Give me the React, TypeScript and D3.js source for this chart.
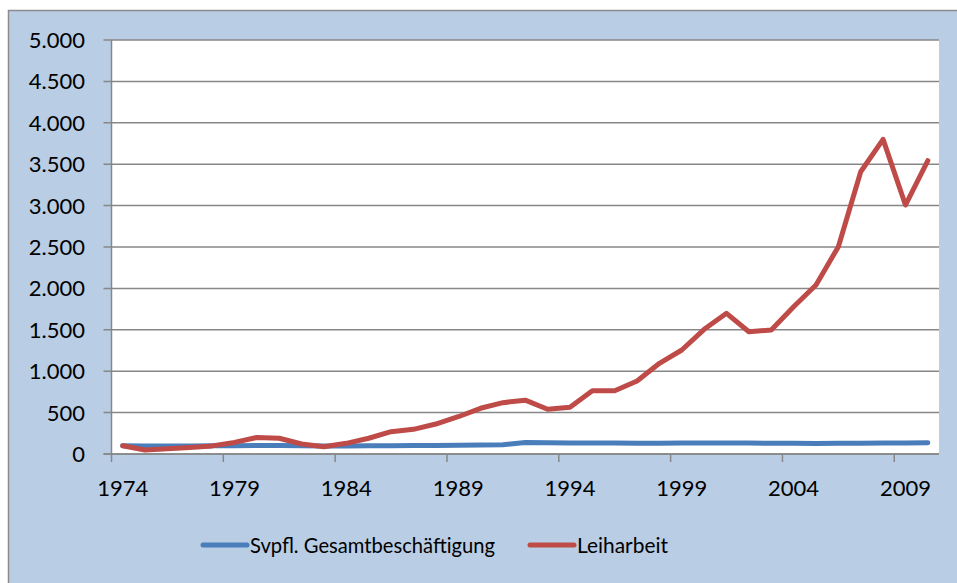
import React, { useEffect, useRef } from "react";
import * as d3 from "d3";

const years = d3.range(1974, 2011);

const gesamt = [
  100, 97, 97, 98, 99, 101, 103, 102, 100, 98, 98, 99, 101, 102, 103, 105,
  108, 111, 138, 136, 134, 134, 133, 131, 131, 132, 134, 134, 133, 130, 129,
  128, 129, 131, 134, 134, 135,
];

const leiharbeit = [
  100, 48, 62, 78, 98, 140, 200, 190, 121, 88, 129, 190, 270, 298, 362, 450,
  552, 620, 650, 540, 564, 764, 764, 882, 1095, 1256, 1506, 1699, 1477, 1498,
  1779, 2041, 2504, 3409, 3800, 3007, 3542,
];

const yTicks = [0, 500, 1000, 1500, 2000, 2500, 3000, 3500, 4000, 4500, 5000];

const seriesNames = ["Svpfl. Gesamtbeschäftigung", "Leiharbeit"];
const seriesColors = ["#4a7ebb", "#be4b48"];

const App = () => {
  const width = 957;
  const height = 583;
  const ref = useRef(null);

  useEffect(() => {
    const svg = d3.select(ref.current);
    svg.selectAll("*").remove();

    const font = "Lato, 'Open Sans', sans-serif";
    const left = 111.5;
    const right = 939;
    const top = 40;
    const bottom = 454;

    // chart background
    svg
      .append("rect")
      .attr("x", 8.5)
      .attr("y", 10.5)
      .attr("width", width)
      .attr("height", height)
      .attr("fill", "#b9cde5")
      .attr("stroke", "#8c8c8c")
      .attr("stroke-width", 1.5);

    svg
      .append("rect")
      .attr("x", left)
      .attr("y", top)
      .attr("width", right - left)
      .attr("height", bottom - top)
      .attr("fill", "#ffffff");

    const xScale = d3.scaleBand().domain(years).range([left, right]);
    const yScale = d3.scaleLinear().domain([0, 5000]).range([bottom, top]);
    const cx = (y) => xScale(y) + xScale.bandwidth() / 2;

    // grid + y ticks
    svg
      .append("g")
      .selectAll("line")
      .data(yTicks)
      .enter()
      .append("line")
      .attr("x1", left - 8)
      .attr("x2", right)
      .attr("y1", (d) => yScale(d))
      .attr("y2", (d) => yScale(d))
      .attr("stroke", "#878787")
      .attr("stroke-width", 1.5);

    svg
      .append("g")
      .selectAll("text")
      .data(yTicks)
      .enter()
      .append("text")
      .attr("x", 85)
      .attr("y", (d) => yScale(d))
      .attr("dy", "0.36em")
      .attr("text-anchor", "end")
      .attr("font-family", font)
      .attr("font-size", 22)
      .attr("fill", "#000")
      .text((d) => d3.format(",")(d).replace(/,/g, "."));

    // axes lines
    svg
      .append("line")
      .attr("x1", left)
      .attr("x2", left)
      .attr("y1", top)
      .attr("y2", bottom)
      .attr("stroke", "#878787")
      .attr("stroke-width", 1.5);

    const labelYears = years.filter((d, i) => i % 5 === 0);

    svg
      .append("g")
      .selectAll("line")
      .data(labelYears)
      .enter()
      .append("line")
      .attr("x1", (d) => xScale(d))
      .attr("x2", (d) => xScale(d))
      .attr("y1", bottom)
      .attr("y2", bottom + 8)
      .attr("stroke", "#878787")
      .attr("stroke-width", 1.5);

    svg
      .append("g")
      .selectAll("text")
      .data(labelYears)
      .enter()
      .append("text")
      .attr("x", (d) => cx(d))
      .attr("y", 488)
      .attr("dy", "0.36em")
      .attr("text-anchor", "middle")
      .attr("font-family", font)
      .attr("font-size", 22)
      .attr("fill", "#000")
      .text((d) => d);

    // lines
    const line = d3
      .line()
      .x((d, i) => cx(years[i]))
      .y((d) => yScale(d));

    [gesamt, leiharbeit].forEach((values, k) => {
      svg
        .append("path")
        .datum(values)
        .attr("fill", "none")
        .attr("stroke", seriesColors[k])
        .attr("stroke-width", 5)
        .attr("stroke-linejoin", "round")
        .attr("stroke-linecap", "round")
        .attr("d", line);
    });

    svg
      .append("line")
      .attr("x1", left - 8)
      .attr("x2", right)
      .attr("y1", bottom)
      .attr("y2", bottom)
      .attr("stroke", "#878787")
      .attr("stroke-width", 1.5);

    // legend
    const legendX = [203, 530];
    const legendW = [245, 91];
    const legendY = 545;
    seriesNames.forEach((name, k) => {
      const g = svg.append("g");
      g.append("line")
        .attr("x1", legendX[k])
        .attr("x2", legendX[k] + 44)
        .attr("y1", legendY)
        .attr("y2", legendY)
        .attr("stroke", seriesColors[k])
        .attr("stroke-width", 5)
        .attr("stroke-linecap", "round");
      g.append("text")
        .attr("x", legendX[k] + 47)
        .attr("y", legendY)
        .attr("dy", "0.36em")
        .attr("font-family", font)
        .attr("font-size", 22)
        .attr("textLength", legendW[k])
        .attr("lengthAdjust", "spacingAndGlyphs")
        .attr("fill", "#000")
        .text(name);
    });
  }, [height, width]);

  return (
    <svg
      ref={ref}
      width={width}
      height={height}
      style={{ position: "absolute", left: 0, top: 0 }}
    />
  );
};

export default App;
